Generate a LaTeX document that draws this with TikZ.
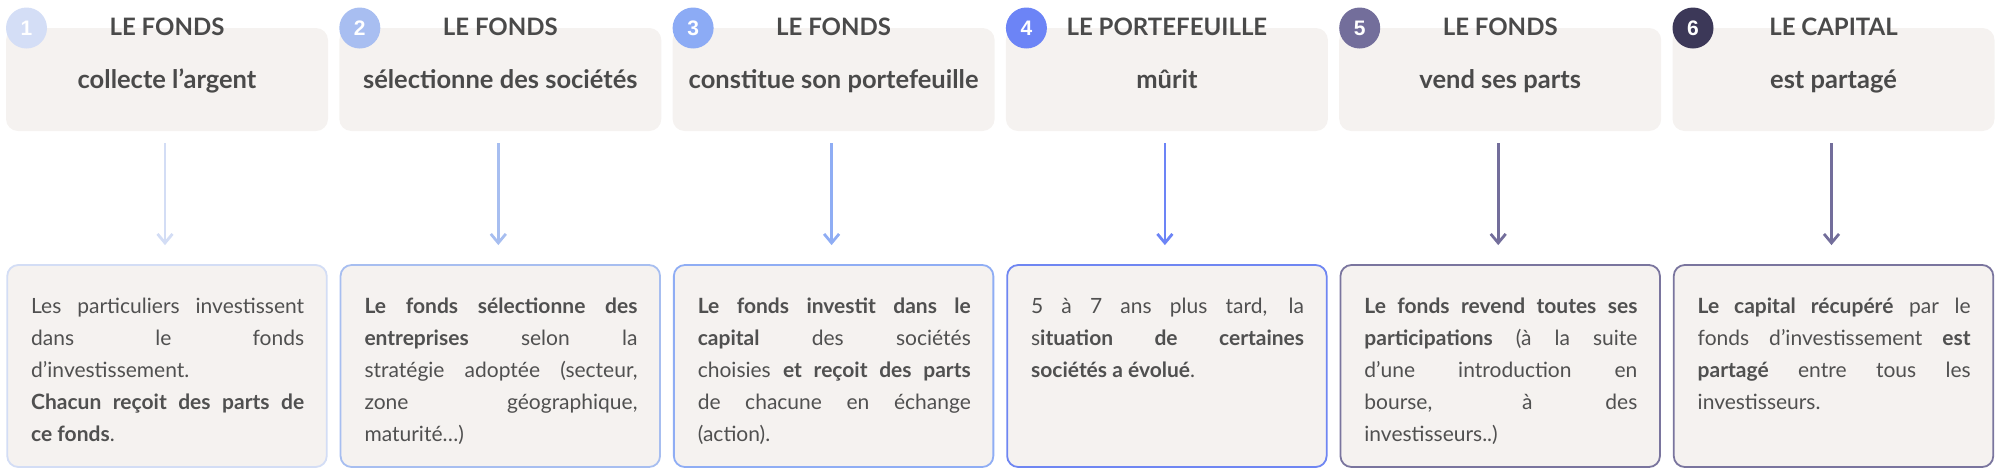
\documentclass[tikz,border=0pt]{standalone}
\usepackage{fontspec}
\setmainfont{Lato}
\newfontfamily\numfont{Liberation Sans}
\usetikzlibrary{arrows.meta}
\definecolor{boxfill}{HTML}{F5F2F0}
\definecolor{titlegrey}{HTML}{4A4A4A}
\definecolor{bodygrey}{HTML}{505050}
\definecolor{cA}{HTML}{D4DEF6}
\definecolor{cB}{HTML}{A8BEF1}
\definecolor{cC}{HTML}{8CABF5}
\definecolor{cD}{HTML}{6C84F6}
\definecolor{cE}{HTML}{736E9B}
\definecolor{cF}{HTML}{3C3858}
\definecolor{bA}{HTML}{D3DDF5}
\definecolor{bB}{HTML}{A7BEF0}
\definecolor{bC}{HTML}{8FADF4}
\definecolor{bD}{HTML}{6F86F2}
\definecolor{bE}{HTML}{7A759E}
\newcommand\jlin[1]{\hbox to 273pt{#1}}
\newcommand\rlin[1]{\hbox{#1}}
\newcommand\bodytxt[1]{\vtop{\baselineskip=32.2pt\lineskiplimit=-50pt\lineskip=0pt #1}}
\tikzset{
 topbox/.style={rectangle, rounded corners=12pt, fill=boxfill, minimum width=322pt, minimum height=103pt, inner sep=0pt},
 numdot/.style={circle, minimum size=41pt, inner sep=0pt, text=white, font=\numfont\bfseries\fontsize{21}{21}\selectfont},
 titletxt/.style={anchor=base, inner sep=0pt, text=titlegrey, font=\bfseries\fontsize{24}{24}\selectfont},
 subtxt/.style={anchor=base, inner sep=0pt, text=titlegrey, font=\bfseries\fontsize{25.5}{25.5}\selectfont},
 botbox/.style={rectangle, rounded corners=11pt, fill=boxfill, line width=1.8pt, minimum width=319.5pt, minimum height=202pt, inner sep=0pt},
 bodynode/.style={anchor=base west, inner sep=0pt, text=bodygrey, font=\fontsize{21}{32.2}\selectfont},
 flow/.style={line width=2.8pt, -{Straight Barb[length=9pt, width=15pt]}, shorten <=12pt, shorten >=19pt}
}
\newcommand\flowcol[7]{%
 \pgfmathsetmacro\colL{6+333.3*(#1-1)}
 \node[topbox] (tb#1) at (\colL+161,79.5) {};
 \node[numdot, fill=#4] (nd#1) at (\colL+20.5,28) {#1};
 \node[titletxt] (ti#1) at (\colL+161,35) {#2};
 \node[subtxt] (st#1) at (\colL+161,88) {#3};
 \node[botbox, draw=#5] (bb#1) at (\colL+161,366) {};
 \node[bodynode] (tx#1) at (\colL+25,313) {\bodytxt{#7}};
 \draw[flow, #6] ([xshift=-2pt]tb#1.south) -- ([xshift=-2pt]bb#1.north);
}
\begin{document}
\begin{tikzpicture}[x=1pt,y=-1pt]
\useasboundingbox (0,0) rectangle (2000,475);
\flowcol{1}{LE FONDS}{collecte l’argent}{cA}{bA}{bA}{%
 \jlin{Les particuliers investissent}
 \jlin{dans le fonds}
 \rlin{d’investissement.}
 \jlin{\textbf{Chacun reçoit des parts de}}
 \rlin{\textbf{ce fonds}.}}
\flowcol{2}{LE FONDS}{sélectionne des sociétés}{cB}{bB}{bB}{%
 \jlin{\textbf{Le fonds sélectionne des}}
 \jlin{\textbf{entreprises} selon la}
 \jlin{stratégie adoptée (secteur,}
 \jlin{zone géographique,}
 \rlin{maturité…)}}
\flowcol{3}{LE FONDS}{constitue son portefeuille}{cC}{bC}{bC}{%
 \jlin{\textbf{Le fonds investit dans le}}
 \jlin{\textbf{capital} des sociétés}
 \jlin{choisies \textbf{et reçoit des parts}}
 \jlin{de chacune en échange}
 \rlin{(action).}}
\flowcol{4}{LE PORTEFEUILLE}{mûrit}{cD}{bD}{cD}{%
 \jlin{5 à 7 ans plus tard, la}
 \jlin{s\textbf{ituation de certaines}}
 \rlin{\textbf{sociétés a évolué}.}}
\flowcol{5}{LE FONDS}{vend ses parts}{cE}{bE}{cE}{%
 \jlin{\textbf{Le fonds revend toutes ses}}
 \jlin{\textbf{participations} (à la suite}
 \jlin{d’une introduction en}
 \jlin{bourse, à des}
 \rlin{investisseurs..)}}
\flowcol{6}{LE CAPITAL}{est partagé}{cF}{bE}{cE}{%
 \jlin{\textbf{Le capital récupéré} par le}
 \jlin{fonds d’investissement \textbf{est}}
 \jlin{\textbf{partagé} entre tous les}
 \rlin{investisseurs.}}
\end{tikzpicture}
\end{document}
